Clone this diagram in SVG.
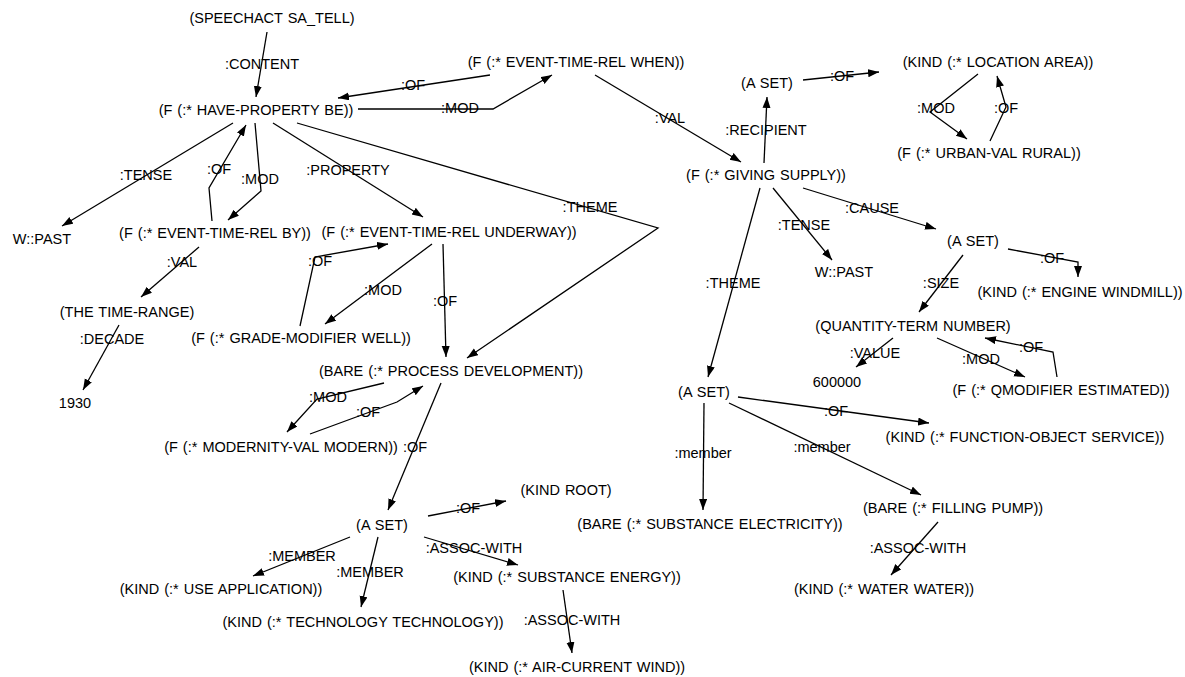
<svg xmlns="http://www.w3.org/2000/svg" width="1185" height="677" viewBox="0 0 1185 677">
<style>
text{font-family:"Liberation Sans",Arial,Helvetica,sans-serif;font-size:14.5px;fill:#000;text-anchor:middle;word-spacing:1px}
.e path{fill:none;stroke:#000;stroke-width:1.3;marker-end:url(#ah)}
</style>
<defs>
<marker id="ah" markerUnits="userSpaceOnUse" markerWidth="12" markerHeight="9" refX="11" refY="4" orient="auto">
<path d="M0,0 L11,4 L0,8 z" fill="#000"/>
</marker>
</defs>
<rect width="1185" height="677" fill="#fff"/>
<g id="connectors" class="e">
<g><path d="M267,32 L256,97"/><text x="262" y="69">:CONTENT</text></g>
<g><path d="M490,75 L338,98"/><text x="413" y="90">:OF</text></g>
<g><path d="M358,109 L493,109 L552,75"/><text x="460" y="113">:MOD</text></g>
<g><path d="M595,75 L741,162"/><text x="670" y="123">:VAL</text></g>
<g><path d="M764,163 L767,97"/><text x="766" y="135">:RECIPIENT</text></g>
<g><path d="M803,80 L879,72"/><text x="842" y="81">:OF</text></g>
<g><path d="M978,74 L930,112 L967,139"/><text x="936" y="113">:MOD</text></g>
<g><path d="M990,141 L1006,107 L997,76"/><text x="1006" y="113">:OF</text></g>
<g><path d="M233,123 L62,226"/><text x="146" y="180">:TENSE</text></g>
<g><path d="M212,221 L209,188 L246,125"/><text x="219" y="174">:OF</text></g>
<g><path d="M255,123 L261,191 L228,220"/><text x="260" y="184">:MOD</text></g>
<g><path d="M273,123 L423,217"/><text x="348" y="175">:PROPERTY</text></g>
<g><path d="M297,123 L658,228 L467,358"/><text x="590" y="212">:THEME</text></g>
<g><path d="M199,247 L141,297"/><text x="182" y="267">:VAL</text></g>
<g><path d="M119,325 L83,390"/><text x="112" y="344">:DECADE</text></g>
<g><path d="M300,326 L315,257 L388,244"/><text x="320" y="266">:OF</text></g>
<g><path d="M432,244 L325,324"/><text x="383" y="295">:MOD</text></g>
<g><path d="M443,244 L446,357"/><text x="445" y="306">:OF</text></g>
<g><path d="M384,383 L317,399 L287,432"/><text x="328" y="402">:MOD</text></g>
<g><path d="M310,434 L397,402 L423,386"/><text x="368" y="417">:OF</text></g>
<g><path d="M441,383 L388,510"/><text x="415" y="452">:OF</text></g>
<g><path d="M428,516 L506,501"/><text x="468" y="513">:OF</text></g>
<g><path d="M350,537 L253,576"/><text x="302" y="561">:MEMBER</text></g>
<g><path d="M378,537 L361,607"/><text x="370" y="577">:MEMBER</text></g>
<g><path d="M424,537 L518,565"/><text x="474" y="553">:ASSOC-WITH</text></g>
<g><path d="M563,590 L572,653"/><text x="572" y="625">:ASSOC-WITH</text></g>
<g><path d="M803,188 L936,229"/><text x="872" y="213">:CAUSE</text></g>
<g><path d="M773,188 L832,260"/><text x="804" y="230">:TENSE</text></g>
<g><path d="M760,188 L708,377"/><text x="733" y="288">:THEME</text></g>
<g><path d="M1008,249 L1078,262 L1078,277"/><text x="1052" y="263">:OF</text></g>
<g><path d="M963,255 L919,312"/><text x="941" y="288">:SIZE</text></g>
<g><path d="M893,338 L856,367"/><text x="875" y="358">:VALUE</text></g>
<g><path d="M937,338 L1025,377"/><text x="981" y="364">:MOD</text></g>
<g><path d="M1057,377 L1053,352 L985,338"/><text x="1031" y="352">:OF</text></g>
<g><path d="M738,397 L929,423"/><text x="836" y="416">:OF</text></g>
<g><path d="M729,403 L921,495"/><text x="822" y="452">:member</text></g>
<g><path d="M704,403 L703,510"/><text x="703" y="458">:member</text></g>
<g><path d="M938,522 L891,575"/><text x="918" y="553">:ASSOC-WITH</text></g>
</g>
<g id="n1"><text x="272" y="23">(SPEECHACT SA_TELL)</text></g>
<g id="n2"><text x="256" y="115">(F (:* HAVE-PROPERTY BE))</text></g>
<g id="n3"><text x="576" y="67">(F (:* EVENT-TIME-REL WHEN))</text></g>
<g id="n4"><text x="767" y="88">(A SET)</text></g>
<g id="n5"><text x="998" y="67">(KIND (:* LOCATION AREA))</text></g>
<g id="n6"><text x="989" y="158">(F (:* URBAN-VAL RURAL))</text></g>
<g id="n7"><text x="766" y="180">(F (:* GIVING SUPPLY))</text></g>
<g id="n8"><text x="42" y="244">W::PAST</text></g>
<g id="n9"><text x="215" y="238">(F (:* EVENT-TIME-REL BY))</text></g>
<g id="n10"><text x="449" y="237">(F (:* EVENT-TIME-REL UNDERWAY))</text></g>
<g id="n11"><text x="127" y="317">(THE TIME-RANGE)</text></g>
<g id="n12"><text x="75" y="408">1930</text></g>
<g id="n13"><text x="301" y="343">(F (:* GRADE-MODIFIER WELL))</text></g>
<g id="n14"><text x="451" y="376">(BARE (:* PROCESS DEVELOPMENT))</text></g>
<g id="n15"><text x="281" y="452">(F (:* MODERNITY-VAL MODERN))</text></g>
<g id="n16"><text x="382" y="530">(A SET)</text></g>
<g id="n17"><text x="566" y="495">(KIND ROOT)</text></g>
<g id="n18"><text x="221" y="594">(KIND (:* USE APPLICATION))</text></g>
<g id="n19"><text x="363" y="627">(KIND (:* TECHNOLOGY TECHNOLOGY))</text></g>
<g id="n20"><text x="567" y="582">(KIND (:* SUBSTANCE ENERGY))</text></g>
<g id="n21"><text x="577" y="672">(KIND (:* AIR-CURRENT WIND))</text></g>
<g id="n22"><text x="710" y="529">(BARE (:* SUBSTANCE ELECTRICITY))</text></g>
<g id="n23"><text x="953" y="513">(BARE (:* FILLING PUMP))</text></g>
<g id="n24"><text x="884" y="594">(KIND (:* WATER WATER))</text></g>
<g id="n25"><text x="704" y="397">(A SET)</text></g>
<g id="n26"><text x="1025" y="442">(KIND (:* FUNCTION-OBJECT SERVICE))</text></g>
<g id="n27"><text x="844" y="277">W::PAST</text></g>
<g id="n28"><text x="973" y="246">(A SET)</text></g>
<g id="n29"><text x="1080" y="297">(KIND (:* ENGINE WINDMILL))</text></g>
<g id="n30"><text x="913" y="331">(QUANTITY-TERM NUMBER)</text></g>
<g id="n31"><text x="837" y="387">600000</text></g>
<g id="n32"><text x="1061" y="395">(F (:* QMODIFIER ESTIMATED))</text></g>
</svg>
